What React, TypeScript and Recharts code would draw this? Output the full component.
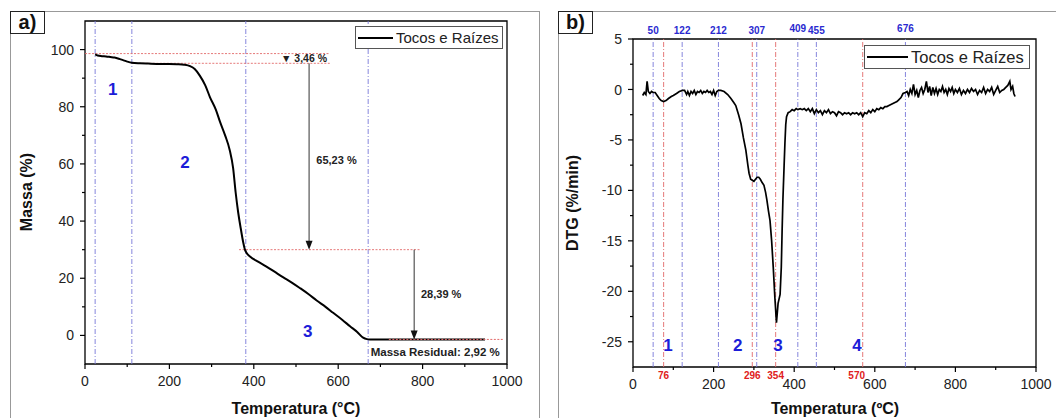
import React from 'react'
import {
  LineChart, Line, XAxis, YAxis, ReferenceLine, ReferenceArea, ReferenceDot, Legend,
} from 'recharts'

// ---- data ----
const tgTemp = [24, 30, 40, 50, 60, 70, 80, 90, 100, 111, 130, 150, 180, 200, 218, 235, 249, 260, 272, 285, 296, 310, 320, 332, 343, 351, 357, 363, 369, 375, 379, 383, 391, 410, 430, 450, 470, 490, 509, 530, 549, 570, 588, 610, 628, 645, 659, 668, 675, 720, 800, 900, 948]
const tgMass = [98.3, 97.9, 97.7, 97.6, 97.4, 97.2, 96.8, 96.3, 95.8, 95.4, 95.2, 95.1, 95.0, 95.0, 94.9, 94.7, 94.2, 93.2, 90.9, 87.5, 83.4, 79.0, 74.7, 70.0, 64.8, 58.5, 50.0, 43.0, 37.5, 32.5, 30.0, 28.8, 27.6, 25.8, 24.1, 22.2, 20.3, 18.5, 16.6, 14.4, 12.2, 10.0, 7.9, 5.4, 3.2, 1.2, -0.8, -1.3, -1.4, -1.4, -1.4, -1.4, -1.4]

const dtgTemp = [
  24, 28, 32, 35, 38, 42, 46, 50, 55, 60, 65, 70, 76, 82, 88, 95, 100, 108, 115, 123,
  128, 133, 136, 140, 144, 148, 152, 156, 160, 164, 168, 172, 176, 180, 184, 188, 192, 196, 200, 204, 208, 212,
  218, 226, 235, 243, 250, 255, 262, 268, 274, 280, 285, 288, 292, 296, 300, 304, 308, 312, 316, 320, 325, 329,
  332, 336, 340, 344, 348, 352, 356, 360, 365, 368, 370, 372, 375, 377, 379, 381, 385, 390, 395, 400, 405, 409,
  415, 420, 425, 430, 435, 440, 445, 450, 455, 460, 465, 470, 475, 480, 485, 490, 495, 500, 505, 510, 515, 520,
  525, 530, 535, 540, 545, 550, 555, 560, 565, 570, 575, 580, 585, 590, 595, 600, 605, 610, 615, 620, 625, 630,
  635, 640, 645, 650, 655, 660, 665, 670, 676,
  680, 684, 688, 692, 696, 700, 704, 708, 712, 716, 720, 724, 728, 732, 736, 740, 744, 748, 752, 756, 760, 764,
  768, 772, 776, 780, 784, 788, 792, 796, 800, 805, 810, 815, 820, 825, 830, 835, 840, 845, 850, 855, 860, 865,
  870, 875, 880, 885, 890, 895, 900, 905, 910, 915, 920, 925, 930, 935, 938, 942, 945, 948,
]
const dtgValue = [
  -0.6, -0.3, -0.5, 0.8, -0.2, -0.4, -0.2, -0.3, -0.3, -0.6, -0.9, -1.1, -1.2, -1.1, -0.9, -0.7, -0.6, -0.4, -0.2, -0.1,
  -0.1, -0.5, -0.2, -0.6, -0.2, -0.4, -0.1, -0.5, -0.2, -0.3, -0.1, -0.4, -0.2, -0.3, -0.1, -0.3, -0.2, -0.5, -0.1, -0.6, -0.2, -0.1,
  -0.1, -0.2, -0.5, -0.9, -1.3, -1.6, -2.5, -3.4, -4.8, -6.0, -7.5, -8.3, -8.9, -9.0, -9.1, -8.9, -8.7, -8.7, -8.9, -9.2, -9.5, -10.2,
  -10.9, -12, -13, -15, -17.6, -20.6, -23.1, -21.2, -20.3, -17.6, -14, -10.9, -7.5, -5.3, -3.5, -2.7, -2.3, -2.2, -2.0, -2.1, -1.9, -2.0,
  -1.9, -2.0, -1.9, -2.1, -1.9, -2.2, -1.9, -2.4, -2.0, -2.3, -2.1, -2.5, -2.1, -2.3, -2.0, -2.4, -2.2, -2.3, -2.6, -2.2, -2.3, -2.5,
  -2.3, -2.4, -2.3, -2.5, -2.3, -2.4, -2.3, -2.5, -2.3, -2.7, -2.3, -2.4, -2.1, -2.3, -2.0, -2.2, -1.9, -2.0, -1.8, -1.9, -1.7, -1.7,
  -1.6, -1.5, -1.4, -1.3, -1.2, -1.0, -0.8, -0.4, -0.3,
  -0.2, -0.6, 0.0, -0.4, 0.5, -0.5, -0.1, -0.8, -0.1, 0.2, -0.4, 0.0, 0.8, -0.3, 0.3, -0.6, 0.2, -0.4, 0.1, -0.5, 0.0, -0.2,
  0.3, -0.3, 0.0, -0.5, 0.1, -0.2, 0.2, -0.4, 0.0, -0.3, 0.1, -0.5, -0.1, -0.4, 0.0, -0.3, 0.1, -0.2, 0.0, -0.5, -0.1, -0.3,
  0.2, -0.4, 0.0, -0.2, 0.2, -0.5, -0.1, 0.3, -0.3, -0.1, 0.0, 0.2, 0.4, 0.8, 0.0, 0.3, -0.4, -0.7,
]

const tempTicks = [0, 100, 200, 300, 400, 500, 600, 700, 800, 900, 1000]
const tempMajor = [0, 200, 400, 600, 800, 1000]
const massTicks = [0, 10, 20, 30, 40, 50, 60, 70, 80, 90, 100]
const massMajor = [0, 20, 40, 60, 80, 100]
const dtgTicks = [-25, -22.5, -20, -17.5, -15, -12.5, -10, -7.5, -5, -2.5, 0, 2.5, 5]
const dtgMajor = [-25, -20, -15, -10, -5, 0, 5]

// TG stage boundaries, DTG onset/end (blue) and peaks (red)
const tgStages = [24, 111, 381, 671]
const dtgBlue = [50, 122, 212, 307, 409, 455, 676]
const dtgRed = [76, 296, 354, 570]

const tgData = tgTemp.map((t, i) => ({ t, m: tgMass[i] }))
const dtgData = dtgTemp.map((t, i) => ({ t, d: dtgValue[i] }))

const FONT = '"Liberation Sans", Arial, sans-serif'
const BLUE_LINE = '#7878d8'
const RED_LINE = '#e26a6a'
const NUM_BLUE = '#1c1cd8'
const DASH = '5 2 1 2'

function makeTick(kind: 'x' | 'y', majors: number[]) {
  return (props: any) => {
    const { x, y, payload } = props
    const v = payload.value
    const major = majors.includes(v)
    const len = major ? 5 : 3
    if (kind === 'x') {
      return (
        <g>
          <line x1={x} y1={y} x2={x} y2={y + len} stroke="#000" strokeWidth={1.2} />
          {major && (
            <text x={x} y={y + 12} dy="0.71em" textAnchor="middle" fontSize={14} fill="#222" fontFamily={FONT}>{v}</text>
          )}
        </g>
      )
    }
    return (
      <g>
        <line x1={x} y1={y} x2={x - len} y2={y} stroke="#000" strokeWidth={1.2} />
        {major && (
          <text x={x - 11} y={y} dy="0.36em" textAnchor="end" fontSize={14} fill="#222" fontFamily={FONT}>{v}</text>
        )}
      </g>
    )
  }
}

function arrowHead(props: any) {
  const { cx, cy } = props
  return <path d={`M${cx - 3.5},${cy - 9} L${cx + 3.5},${cy - 9} L${cx},${cy} Z`} fill="#111" />
}

function LegendBox({ width, height, fontSize, lineLen }: { width: number; height: number; fontSize: number; lineLen: number }) {
  return (
    <div style={{
      width, height, boxSizing: 'border-box', border: '1px solid #555', background: '#fff',
      display: 'flex', alignItems: 'center', paddingLeft: 2, fontFamily: FONT, fontSize, color: '#222',
    }}>
      <span style={{ display: 'inline-block', width: lineLen, height: 2, background: '#000', marginRight: 3 }} />
      Tocos e Raízes
    </div>
  )
}

const annot = { fontSize: 11, fontWeight: 'bold', fill: '#222', fontFamily: FONT }
const stageNum = { fontSize: 17, fontWeight: 'bold', fill: NUM_BLUE, fontFamily: FONT }

function TgChart() {
  return (
    <LineChart width={540} height={418} data={tgData} margin={{ top: 21, right: 33, bottom: 24, left: 25 }}>
      <XAxis dataKey="t" type="number" domain={[0, 1000]} ticks={tempTicks} interval={0} allowDataOverflow
        axisLine={false} tickLine={false} tickSize={0} tickMargin={0} height={30} tick={makeTick('x', tempMajor)} />
      <YAxis type="number" domain={[-10, 110]} ticks={massTicks} interval={0} allowDataOverflow
        axisLine={false} tickLine={false} tickSize={0} tickMargin={0} width={60} tick={makeTick('y', massMajor)} />
      {tgStages.map((x) => (
        <ReferenceLine key={x} x={x} stroke={BLUE_LINE} strokeDasharray={DASH} strokeWidth={0.9} />
      ))}
      <ReferenceLine segment={[{ x: 0, y: 98.6 }, { x: 580, y: 98.6 }]} stroke={RED_LINE} strokeDasharray="2 1.5" strokeWidth={0.9} />
      <ReferenceLine segment={[{ x: 111, y: 95.2 }, { x: 580, y: 95.2 }]} stroke={RED_LINE} strokeDasharray="2 1.5" strokeWidth={0.9} />
      <ReferenceLine segment={[{ x: 365, y: 30 }, { x: 795, y: 30 }]} stroke={RED_LINE} strokeDasharray="2 1.5" strokeWidth={0.9} />
      <ReferenceLine segment={[{ x: 531, y: 95.2 }, { x: 531, y: 31 }]} stroke="#333" strokeWidth={1} />
      <ReferenceLine segment={[{ x: 780, y: 30 }, { x: 780, y: -0.6 }]} stroke="#333" strokeWidth={1} />
      <ReferenceDot x={531} y={30} r={0} shape={arrowHead} />
      <ReferenceDot x={780} y={-1.4} r={0} shape={arrowHead} />
      <ReferenceDot x={519} y={96.9} r={0} label={{ value: '▼ 3,46 %', position: 'center', ...annot, fontSize: 10.5 }} />
      <ReferenceDot x={596} y={61.4} r={0} label={{ value: '65,23 %', position: 'center', ...annot }} />
      <ReferenceDot x={844} y={14.4} r={0} label={{ value: '28,39 %', position: 'center', ...annot }} />
      <ReferenceDot x={830} y={-5.8} r={0} label={{ value: 'Massa Residual: 2,92 %', position: 'center', ...annot, fontSize: 11.5 }} />
      <ReferenceDot x={66} y={86.1} r={0} label={{ value: '1', position: 'center', ...stageNum }} />
      <ReferenceDot x={237} y={60.7} r={0} label={{ value: '2', position: 'center', ...stageNum }} />
      <ReferenceDot x={528} y={1.7} r={0} label={{ value: '3', position: 'center', ...stageNum }} />
      <ReferenceArea x1={0} x2={1000} y1={-10} y2={110} fill="none" stroke="#000" strokeWidth={1.3} />
      <Line dataKey="m" name="Tocos e Raízes" type="monotone" stroke="#000" strokeWidth={2} dot={false} isAnimationActive={false} />
      <ReferenceLine segment={[{ x: 720, y: -1.4 }, { x: 990, y: -1.4 }]} stroke={RED_LINE} strokeDasharray="2 1.5" strokeWidth={1} />
      <Legend layout="horizontal" verticalAlign="middle" align="center"
        wrapperStyle={{ left: 355, top: 26, width: 148, height: 23 }}
        content={() => <LegendBox width={148} height={23} fontSize={15} lineLen={35} />} />
    </LineChart>
  )
}

function DtgChart() {
  return (
    <LineChart width={516} height={418} data={dtgData} margin={{ top: 39, right: 20, bottom: 21, left: 33 }}>
      <XAxis dataKey="t" type="number" domain={[0, 1000]} ticks={tempTicks} interval={0} allowDataOverflow
        axisLine={false} tickLine={false} tickSize={0} tickMargin={0} height={30} tick={makeTick('x', tempMajor)} />
      <YAxis type="number" domain={[-27.5, 5]} ticks={dtgTicks} interval={0} allowDataOverflow
        axisLine={false} tickLine={false} tickSize={0} tickMargin={0} width={60} tick={makeTick('y', dtgMajor)} />
      {dtgBlue.map((x) => (
        <ReferenceLine key={x} x={x} stroke={BLUE_LINE} strokeDasharray={DASH} strokeWidth={0.9}
          label={{ value: String(x), position: 'top', offset: x === 409 || x === 676 ? 7 : 5, fill: '#2a2ad0', fontSize: 10, fontWeight: 'bold', fontFamily: FONT }} />
      ))}
      {dtgRed.map((x) => (
        <ReferenceLine key={x} x={x} stroke={RED_LINE} strokeDasharray={DASH} strokeWidth={0.9}
          label={{ value: String(x), position: 'bottom', offset: 5, dx: x === 570 ? -6 : 0, fill: '#e02020', fontSize: 10, fontWeight: 'bold', fontFamily: FONT }} />
      ))}
      <ReferenceDot x={87} y={-25.3} r={0} label={{ value: '1', position: 'center', ...stageNum }} />
      <ReferenceDot x={260} y={-25.3} r={0} label={{ value: '2', position: 'center', ...stageNum }} />
      <ReferenceDot x={360} y={-25.3} r={0} label={{ value: '3', position: 'center', ...stageNum }} />
      <ReferenceDot x={556} y={-25.3} r={0} label={{ value: '4', position: 'center', ...stageNum }} />
      <ReferenceArea x1={0} x2={1000} y1={-27.5} y2={5} fill="none" stroke="#000" strokeWidth={1.3} />
      <Line dataKey="d" name="Tocos e Raízes" type="linear" stroke="#000" strokeWidth={1.7} dot={false} isAnimationActive={false} />
      <Legend layout="horizontal" verticalAlign="middle" align="center"
        wrapperStyle={{ left: 324, top: 45, width: 166, height: 24 }}
        content={() => <LegendBox width={166} height={24} fontSize={16.5} lineLen={41} />} />
    </LineChart>
  )
}

const titleStyle: React.CSSProperties = {
  position: 'absolute', fontFamily: FONT, fontWeight: 'bold', fontSize: 16, color: '#111',
  whiteSpace: 'nowrap', transform: 'translate(-50%, -50%)',
}

export default function App() {
  return (
    <div style={{ position: 'absolute', left: 0, top: 0, width: 1056, height: 418, background: '#fff', overflow: 'hidden' }}>
      <div style={{ position: 'absolute', left: 10, top: 11, width: 530, height: 420, border: '1px solid #999', boxSizing: 'border-box' }} />
      <div style={{ position: 'absolute', left: 558, top: 11, width: 520, height: 420, border: '1px solid #999', boxSizing: 'border-box' }} />
      <div style={{ position: 'absolute', left: 0, top: 0 }}><TgChart /></div>
      <div style={{ position: 'absolute', left: 540, top: 0 }}><DtgChart /></div>
      {[{ t: 'a)', l: 10 }, { t: 'b)', l: 558 }].map((b) => (
        <div key={b.t} style={{
          position: 'absolute', left: b.l, top: 11, width: 35, height: 23, boxSizing: 'border-box', border: '1px solid #222',
          background: '#fff', fontFamily: FONT, fontWeight: 'bold', fontSize: 20, lineHeight: '21px', textAlign: 'center', color: '#111',
        }}>{b.t}</div>
      ))}
      <div style={{ ...titleStyle, left: 27, top: 192, transform: 'translate(-50%, -50%) rotate(-90deg)' }}>Massa (%)</div>
      <div style={{ ...titleStyle, left: 296, top: 409 }}>Temperatura (°C)</div>
      <div style={{ ...titleStyle, left: 573, top: 203, transform: 'translate(-50%, -50%) rotate(-90deg)' }}>DTG (%/min)</div>
      <div style={{ ...titleStyle, left: 835, top: 409 }}>Temperatura (ºC)</div>
    </div>
  )
}
